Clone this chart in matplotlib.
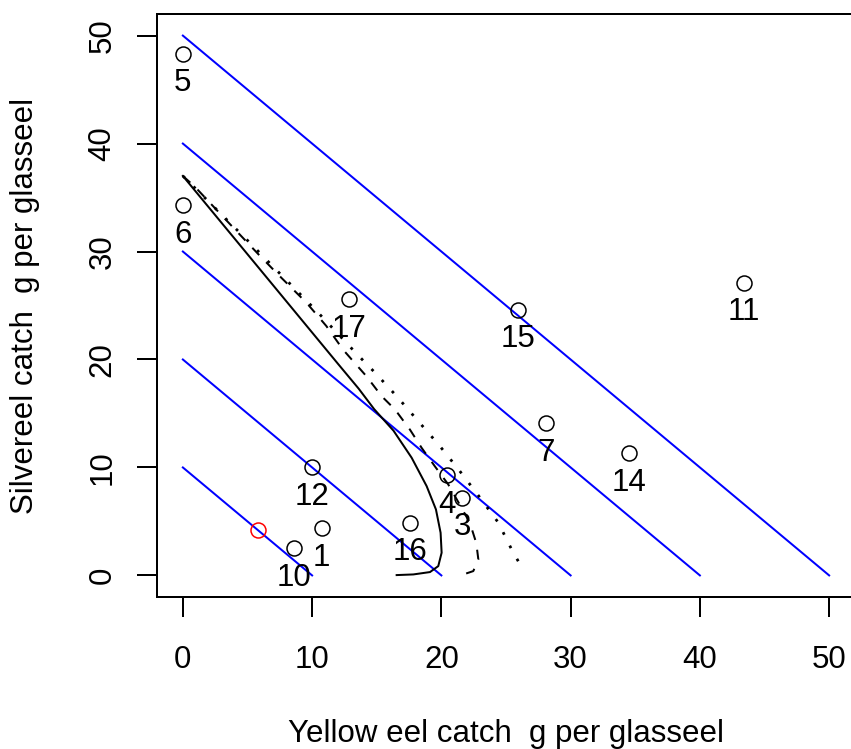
import numpy as np
import matplotlib
matplotlib.use('Agg')
import matplotlib.pyplot as plt

plt.rcParams['font.family'] = ['Liberation Sans', 'DejaVu Sans']

# sites: yellow eel and silver eel catch (g per glasseel)
site_ids = ['1', '3', '4', '5', '6', '7', '10', '11', '12', '14', '15', '16', '17']
yellow = [10.75, 21.6, 20.4, 0.0, 0.0, 28.1, 8.6, 43.4, 10.0, 34.5, 25.9, 17.6, 12.85]
silver = [4.35, 7.2, 9.3, 48.3, 34.3, 14.1, 2.5, 27.1, 10.0, 11.3, 24.6, 4.9, 25.6]

# highlighted point
red_x = [5.8]
red_y = [4.25]

# iso-total lines x + y = level
levels = [10, 20, 30, 40, 50]

# frontier curves
solid_x = [0.0, 3.0, 6.0, 9.0, 12.0, 13.6, 14.8, 16.3, 17.7, 18.86, 19.58,
           19.94, 20.02, 19.76, 19.12, 17.83, 16.54]
solid_y = [37.0, 32.65, 28.3, 23.95, 19.6, 17.3, 15.4, 13.4, 10.9, 8.27, 6.11,
           3.95, 2.1, 0.86, 0.31, 0.09, 0.03]

dash_x = [0.0, 0.93, 2.73, 4.54, 5.96, 7.51, 9.57, 11.1, 12.4, 14.2, 15.38, 16.41,
          17.57, 18.47, 19.5, 20.53, 21.4, 22.2, 22.7, 22.86, 22.47, 21.7]
dash_y = [37.0, 36.0, 33.7, 31.4, 29.6, 27.7, 25.25, 23.1, 20.9, 18.45, 16.6, 15.37,
          13.5, 11.82, 10.1, 8.43, 6.6, 4.88, 3.0, 1.48, 0.4, 0.09]

dot_x = [0.0, 1.78, 3.56, 5.32, 7.07, 8.8, 10.55, 13.13, 14.0, 14.85, 16.54, 18.2,
         19.84, 21.39, 22.9, 24.4, 25.5, 26.1]
dot_y = [37.0, 34.88, 32.75, 30.65, 28.49, 26.39, 24.23, 20.93, 19.84, 18.8, 16.6, 14.3,
         12.04, 9.72, 7.34, 4.9, 2.25, 1.0]

ticks = [0, 10, 20, 30, 40, 50]

fig = plt.figure(figsize=(8.51, 7.49), dpi=100)
ax = fig.add_axes([157/851, 152/749, 698/851, 583/749])

lw = 1.44
fs = 22.5

for c in levels:
    ax.plot([0, c], [c, 0], color='#0000ff', lw=lw)

ax.plot(solid_x, solid_y, color='black', lw=lw)
ax.plot(dash_x, dash_y, color='black', lw=lw, linestyle=(0, (5, 5)))
ax.plot(dot_x, dot_y, color='black', lw=2.0, linestyle=(0, (1, 4.4)))

ax.plot(yellow, silver, 'o', mfc='none', mec='black', ms=10.8, mew=1.1)
ax.plot(red_x, red_y, 'o', mfc='none', mec='red', ms=10.8, mew=1.1)

for lab, x, y in zip(site_ids, yellow, silver):
    ax.annotate(lab, (x, y), xytext=(0, -27), textcoords='offset points',
                ha='center', va='baseline', fontsize=fs)

ax.set_xlim(-2, 52)
ax.set_ylim(-2, 52)
ax.set_xticks(ticks)
ax.set_yticks(ticks)
ax.set_xticklabels([str(t) for t in ticks], fontsize=fs)
ax.set_yticklabels([str(t) for t in ticks], fontsize=fs, rotation=90, va='center')
ax.tick_params(axis='both', length=14.4, width=lw)
ax.tick_params(axis='x', pad=20)
ax.tick_params(axis='y', pad=14)
for s in ax.spines.values():
    s.set_linewidth(lw)

ax.set_xlabel('Yellow eel catch  g per glasseel', fontsize=fs, labelpad=32)
ax.set_ylabel('Silvereel catch  g per glasseel', fontsize=fs, labelpad=34)

fig.savefig('out.png', dpi=100)
